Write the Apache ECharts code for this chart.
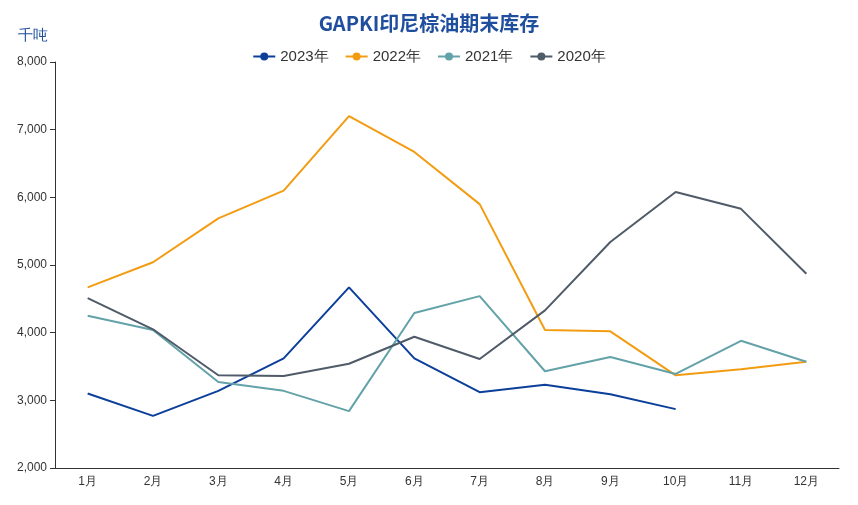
<!DOCTYPE html><html><head><meta charset="utf-8"><script src="https://cdn.jsdelivr.net/npm/echarts@6/dist/echarts.min.js"></script></head><body style="margin:0"><div id="c" style="width:858px;height:505px"></div><script>
const months=['1月','2月','3月','4月','5月','6月','7月','8月','9月','10月','11月','12月'];
const s2023=[3100,2770,3140,3620,4670,3620,3120,3230,3090,2870];
const s2022=[4670,5040,5690,6100,7200,6670,5900,4040,4020,3370,3460,3570];
const s2021=[4250,4040,3270,3140,2840,4290,4540,3430,3640,3390,3880,3570];
const s2020=[4510,4050,3370,3360,3540,3940,3610,4330,5340,6080,5830,4870];
const names=['2023年','2022年','2021年','2020年'];
const colors=['#0b3f9a','#f39c12','#62a2a8','#4f5b68'];
const data=[s2023,s2022,s2021,s2020];
const ch=echarts.init(document.getElementById('c'));
ch.setOption({
 title:{text:'GAPKI印尼棕油期末库存',left:'center',top:8,textStyle:{color:'#1f4e9e',fontSize:20,fontWeight:'bold',fontFamily:'Noto Sans CJK SC'}},
 legend:{top:44,left:'center',itemWidth:22,itemHeight:10,itemGap:16,textStyle:{fontSize:15,color:'#333'},data:names},
 grid:{left:55,right:19,top:62,bottom:37},
 graphic:[{type:'text',left:18,top:28,style:{text:'千吨',fill:'#1f4e9e',fontSize:15}}],
 xAxis:{type:'category',data:months,axisLine:{lineStyle:{color:'#333'}},axisTick:{alignWithLabel:false},axisLabel:{color:'#333',fontSize:12}},
 yAxis:{type:'value',min:2000,max:8000,interval:1000,splitLine:{show:false},axisLine:{show:true,lineStyle:{color:'#333'}},axisTick:{show:true},axisLabel:{color:'#333',fontSize:12,formatter:v=>v.toLocaleString('en-US')}},
 series:names.map((n,i)=>({name:n,type:'line',data:data[i],symbol:'circle',showSymbol:false,symbolSize:8,lineStyle:{width:2,color:colors[i]},itemStyle:{color:colors[i]}}))
});
</script></body></html>
